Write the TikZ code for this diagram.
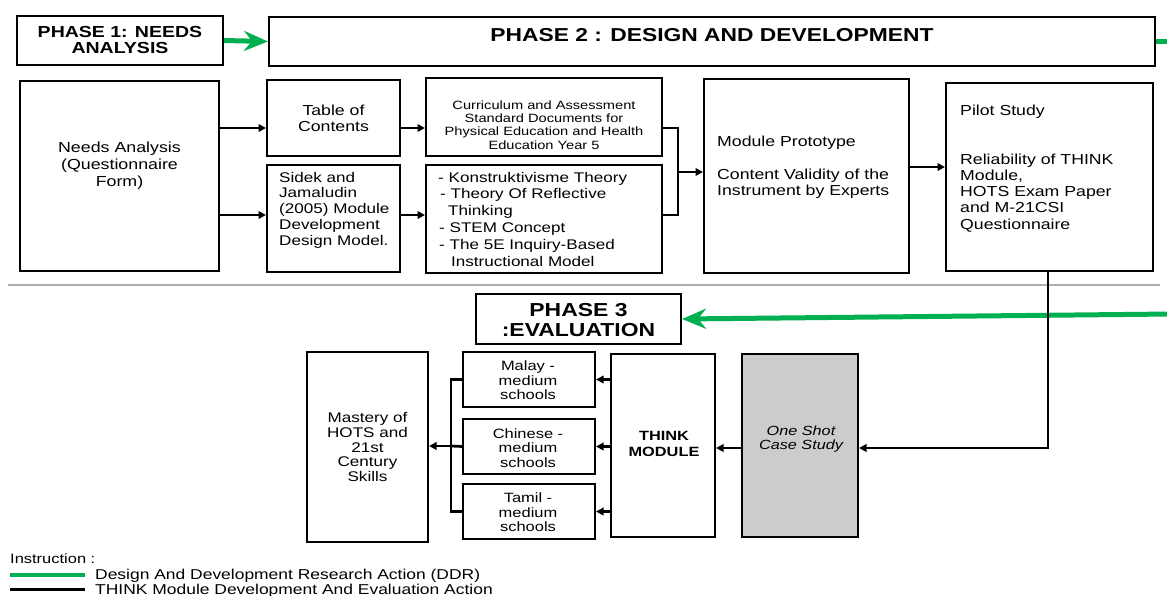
\documentclass[tikz,border=0pt]{standalone}
\usepackage{fontspec}
\setmainfont{Liberation Sans}[FakeStretch=1.22]
\usetikzlibrary{arrows.meta}
\definecolor{ddr}{RGB}{0,176,80}
\definecolor{shade}{RGB}{204,204,204}
\definecolor{sepgray}{RGB}{175,175,175}
\newcommand{\fs}[2]{\fontsize{#1}{#2}\selectfont}
\begin{document}
\begin{tikzpicture}[x=1pt,y=-1pt,
  box/.style={draw=black,line width=2pt,inner sep=0pt},
  txt/.style={inner sep=0pt,align=center,font=\fs{14.5}{16.5}},
  ltxt/.style={inner sep=0pt,align=left,anchor=west,font=\fs{14.5}{16.3}},
  arr/.style={line width=2.7pt,-{Triangle[length=7.5pt,width=7.5pt]}},
  conn/.style={line width=2.7pt},
  garr/.style={ddr,line width=5pt,-{Stealth[length=24pt,width=20pt,inset=8pt]}},
  gline/.style={ddr,line width=5pt},
 ]
\useasboundingbox (0,0) rectangle (1167,595);

% separator
\coordinate (sepA) at (8,285);
\coordinate (sepB) at (1160,285);
\draw[sepgray,line width=1.3pt] (sepA) -- (sepB);

% ---------- boxes ----------
\node[box,minimum width=206,minimum height=49] (p1) at (120,40.5) {};
\node[box,minimum width=886,minimum height=49] (p2) at (712,41.5) {};
\node[box,minimum width=199,minimum height=190] (needs) at (119.5,176) {};
\node[box,minimum width=133,minimum height=76] (toc) at (333.5,118) {};
\node[box,minimum width=133,minimum height=107] (sidek) at (333.5,218.5) {};
\node[box,minimum width=236,minimum height=78] (curr) at (544,117) {};
\node[box,minimum width=236,minimum height=108] (theo) at (544,219) {};
\node[box,minimum width=205,minimum height=194] (proto) at (806.5,176) {};
\node[box,minimum width=207,minimum height=188] (pilot) at (1049.5,177) {};
\node[box,minimum width=205,minimum height=50] (p3) at (578.5,319) {};
\node[box,minimum width=121,minimum height=190] (mastery) at (367.5,447) {};
\node[box,minimum width=132,minimum height=55] (malay) at (529,379.5) {};
\node[box,minimum width=132,minimum height=55] (chinese) at (529,446.5) {};
\node[box,minimum width=132,minimum height=55] (tamil) at (529,511.5) {};
\node[box,minimum width=104,minimum height=183] (think) at (663,445.5) {};
\node[box,fill=shade,minimum width=116,minimum height=183] (oneshot) at (800,445.5) {};

% ---------- texts ----------
\node[txt,font=\fs{16}{16.5}\bfseries] (p1T) at (120,40) {PHASE 1: NEEDS\\ANALYSIS};
\node[txt,font=\fs{18.7}{20}\bfseries] (p2T) at (712,35) {PHASE 2 : DESIGN AND DEVELOPMENT};
\node[txt,font=\fs{14.6}{17}] (needsT) at (119.5,166) {Needs Analysis\\(Questionnaire\\Form)};
\node[txt,font=\fs{14.5}{16}] (tocT) at (333.5,118) {Table of\\Contents};
\node[ltxt,font=\fs{14}{15.8}] (sidekT) at (279,210) {Sidek and\\Jamaludin\\(2005) Module\\Development\\Design Model.};
\node[txt,font=\fs{12}{13.4}] (currT) at (544,125) {Curriculum and Assessment\\Standard Documents for\\Physical Education and Health\\Education Year 5};
\node[ltxt,font=\fs{14}{16.8}] (theoT) at (438,219) {- Konstruktivisme Theory\\\hspace{2pt}- Theory Of Reflective\\\hspace{10pt}Thinking\\\hspace{1pt}- STEM Concept\\\hspace{1pt}- The 5E Inquiry-Based\\\hspace{13pt}Instructional Model};
\node[ltxt,font=\fs{14.5}{16.3}] (protoT) at (717,167.5) {Module Prototype\\[16.3pt]Content Validity of the\\Instrument by Experts};
\node[ltxt,font=\fs{14.5}{16.2}] (pilotT) at (960,168.5) {Pilot Study\\[32.5pt]Reliability of THINK\\Module,\\HOTS Exam Paper\\and M-21CSI\\Questionnaire};
\node[txt,font=\fs{18.8}{20}\bfseries] (p3T) at (578.5,320) {PHASE 3\\:EVALUATION};
\node[txt,font=\fs{14}{14.6}] (masteryT) at (367.5,447) {Mastery of\\HOTS and\\21st\\Century\\Skills};
\node[txt,font=\fs{13.5}{14.5}] (malayT) at (528,380.5) {Malay -\\medium\\schools};
\node[txt,font=\fs{13.5}{14.5}] (chineseT) at (528,448) {Chinese -\\medium\\schools};
\node[txt,font=\fs{13.5}{14.5}] (tamilT) at (528,512.5) {Tamil -\\medium\\schools};
\node[txt,font=\fs{13.4}{16}\bfseries] (thinkT) at (664,444) {THINK\\MODULE};
\node[txt,font=\fs{13.3}{14.5}\itshape] (oneshotT) at (801,439) {One Shot\\Case Study};

% ---------- green DDR connectors ----------
\draw[garr] (p1.east) -- (p2.west);
\coordinate (gEnd) at (1172,41.5);
\draw[gline] (p2.east) -- (gEnd);
\coordinate (gStart) at (1172,314);
\draw[garr] (gStart) -- (p3.east);

% ---------- black connectors ----------
\coordinate (r1) at (0,128);
\coordinate (r2) at (0,215);
\coordinate (j) at (678,172);
\coordinate (r3) at (0,167);
\coordinate (c) at (1048,448);
\coordinate (b) at (451,446);

\draw[arr] (needs.east |- r1) -- (toc.west |- r1);
\draw[arr] (needs.east |- r2) -- (sidek.west |- r2);
\draw[arr] (toc.east |- r1) -- (curr.west |- r1);
\draw[arr] (sidek.east |- r2) -- (theo.west |- r2);
\draw[conn] (curr.east |- r1) -| (j);
\draw[conn] (theo.east |- r2) -| (j);
\draw[arr] (j) -- (proto.west |- j);
\draw[arr] (proto.east |- r3) -- (pilot.west |- r3);
\draw[arr] (pilot.south -| c) |- (oneshot.east |- c);
\draw[arr] (oneshot.west |- c) -- (think.east |- c);
\draw[arr] (think.west |- malay.east) -- (malay.east);
\draw[arr] (think.west |- chinese.east) -- (chinese.east);
\draw[arr] (think.west |- tamil.east) -- (tamil.east);
\draw[conn] (malay.west) -| (b);
\draw[conn] (tamil.west) -| (b);
\draw[conn] (chinese.west) -- (b);
\draw[arr] (b) -- (mastery.east |- b);

% ---------- legend ----------
\node[inner sep=0pt,anchor=base west,font=\fs{13.5}{14}] (legT) at (10,563) {Instruction :};
\coordinate (lg1a) at (10,575);
\coordinate (lg1b) at (85,575);
\coordinate (lg2a) at (10,589);
\coordinate (lg2b) at (85,589);
\draw[ddr,line width=4pt] (lg1a) -- (lg1b);
\draw[black,line width=3pt] (lg2a) -- (lg2b);
\node[inner sep=0pt,anchor=base west,font=\fs{14.3}{14}] (leg1) at (95,579.5) {Design And Development Research Action (DDR)};
\node[inner sep=0pt,anchor=base west,font=\fs{14.3}{14}] (leg2) at (95,594) {THINK Module Development And Evaluation Action};
\end{tikzpicture}
\end{document}
